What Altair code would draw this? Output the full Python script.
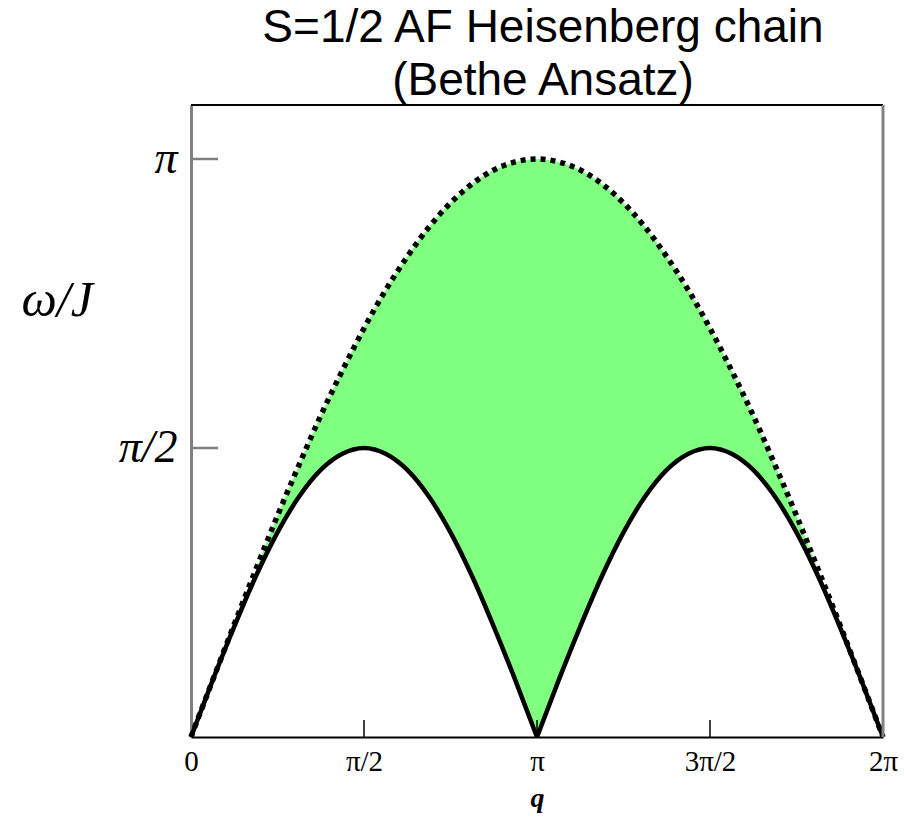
import altair as alt
import pandas as pd

# Momentum q in units of pi, sampled every pi/16 across the zone
Q = [0, 0.0625, 0.125, 0.1875, 0.25, 0.3125, 0.375, 0.4375, 0.5,
     0.5625, 0.625, 0.6875, 0.75, 0.8125, 0.875, 0.9375, 1.0,
     1.0625, 1.125, 1.1875, 1.25, 1.3125, 1.375, 1.4375, 1.5,
     1.5625, 1.625, 1.6875, 1.75, 1.8125, 1.875, 1.9375, 2.0]

# Lower edge of the two-spinon continuum (omega/J in units of pi)
LOWER = [0, 0.098, 0.191, 0.278, 0.354, 0.416, 0.462, 0.490, 0.500,
         0.490, 0.462, 0.416, 0.354, 0.278, 0.191, 0.098, 0,
         0.098, 0.191, 0.278, 0.354, 0.416, 0.462, 0.490, 0.500,
         0.490, 0.462, 0.416, 0.354, 0.278, 0.191, 0.098, 0]

# Upper edge of the continuum (omega/J in units of pi)
UPPER = [0, 0.098, 0.195, 0.290, 0.383, 0.471, 0.556, 0.634, 0.707,
         0.773, 0.831, 0.882, 0.924, 0.957, 0.981, 0.995, 1.000,
         0.995, 0.981, 0.957, 0.924, 0.882, 0.831, 0.773, 0.707,
         0.634, 0.556, 0.471, 0.383, 0.290, 0.195, 0.098, 0]

X_TICKS = [0.5, 1.0, 1.5]
Y_TICKS = [0.5, 1.0]

W, H = 692, 632
Y_MAX = 1.0934

# Split the lower edge into its two arches so the cusp at q = pi stays sharp
rows = []
for q, lo, up in zip(Q, LOWER, UPPER):
    if q <= 1.0:
        rows.append({"q": q, "lo": lo, "up": up, "arch": "a"})
    if q >= 1.0:
        rows.append({"q": q, "lo": lo, "up": up, "arch": "b"})
arches = pd.DataFrame(rows)
edge = pd.DataFrame({"q": Q, "up": UPPER})

x_scale = alt.Scale(domain=[0, 2], nice=False, zero=False)
y_scale = alt.Scale(domain=[0, Y_MAX], nice=False)

x_axis = alt.Axis(
    values=[0, 0.5, 1, 1.5, 2],
    labelExpr="datum.value == 0 ? '0' : datum.value == 0.5 ? 'π/2' : "
              "datum.value == 1 ? 'π' : datum.value == 1.5 ? '3π/2' : '2π'",
    labelFont="Liberation Serif", labelFontSize=29, labelColor="black",
    labelPadding=10, labelFlush=False,
    ticks=False, grid=False, domainColor="black", domainWidth=2,
    title="q", titleFont="Liberation Serif", titleFontStyle="italic",
    titleFontWeight="bold", titleFontSize=28, titleColor="black", titlePadding=8,
)

y_axis = alt.Axis(
    values=[0.5, 1.0],
    labelExpr="datum.value == 1 ? 'π' : 'π/2'",
    labelFont="Liberation Serif", labelFontStyle="italic", labelFontSize=46,
    labelColor="black", labelPadding=14,
    ticks=False, grid=False, domainColor="#808080", domainWidth=3,
    title="ω/J", titleFont="Liberation Serif", titleFontStyle="italic",
    titleFontWeight="normal", titleFontSize=50, titleColor="black",
    titleAngle=0, titleAlign="left", titleBaseline="middle",
    titleX=-170, titleY=195,
)

band = alt.Chart(arches).mark_area(color="#80FF80", interpolate="monotone").encode(
    x=alt.X("q:Q", scale=x_scale, axis=x_axis),
    y=alt.Y("up:Q", scale=y_scale, axis=y_axis),
    y2="lo:Q",
    detail="arch:N",
)

lower_line = alt.Chart(arches).mark_line(
    color="black", strokeWidth=4.5, interpolate="monotone"
).encode(x="q:Q", y="lo:Q", detail="arch:N")

upper_line = alt.Chart(edge).mark_line(
    color="black", strokeWidth=5.5, strokeDash=[5, 5], interpolate="monotone"
).encode(x="q:Q", y="up:Q")

x_ticks = alt.Chart(pd.DataFrame({"q": X_TICKS})).mark_rule(
    color="black", strokeWidth=1.5
).encode(x="q:Q", y=alt.value(H), y2=alt.value(H - 17))

y_ticks = alt.Chart(pd.DataFrame({"up": Y_TICKS})).mark_rule(
    color="#808080", strokeWidth=2.5
).encode(y="up:Q", x=alt.value(0), x2=alt.value(27))

top_border = alt.Chart(pd.DataFrame({"q": [0]})).mark_rule(
    color="black", strokeWidth=2
).encode(x=alt.value(0), x2=alt.value(W), y=alt.value(0))

right_border = alt.Chart(pd.DataFrame({"q": [0]})).mark_rule(
    color="#808080", strokeWidth=3
).encode(x=alt.value(W), y=alt.value(0), y2=alt.value(H))

chart = alt.layer(
    band, lower_line, upper_line, x_ticks, y_ticks, top_border, right_border
).properties(
    width=W, height=H,
    padding={"left": 191, "top": 105, "right": 21, "bottom": 81},
    autosize=alt.AutoSizeParams(type="none"),
    title=alt.TitleParams(
        text=["S=1/2 AF Heisenberg chain", "(Bethe Ansatz)"],
        font="Liberation Sans", fontSize=46, fontWeight="normal",
        color="black", anchor="middle", lineHeight=53, offset=-1, dx=6,
    ),
).configure_view(stroke=None).configure(background="white")

chart.save("out.html", embed_options={"renderer": "svg", "actions": False})
